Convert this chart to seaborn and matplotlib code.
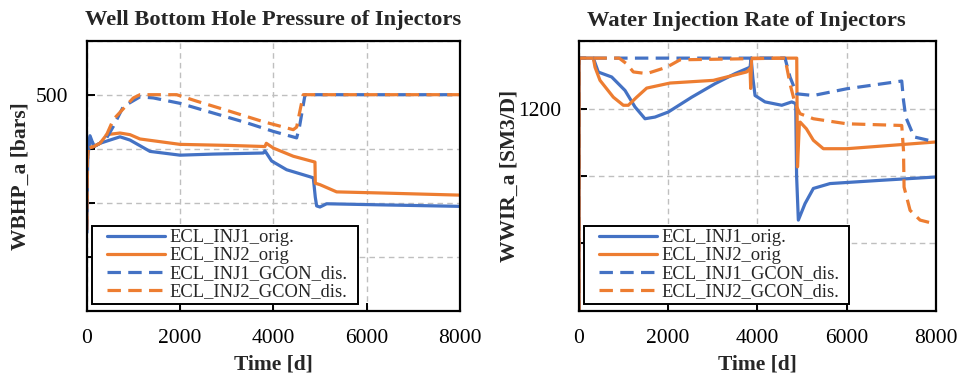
import numpy as np
import pandas as pd
import seaborn as sns
import matplotlib
matplotlib.use("Agg")
import matplotlib.pyplot as plt
from matplotlib.lines import Line2D
from matplotlib.legend_handler import HandlerLine2D

# ---- Well bottom hole pressure (bars) ----
bhp_inj1_orig_t = [0, 20, 71, 157, 285, 714, 928, 1357, 2000, 2713, 3785, 3821, 3964, 4286, 4786, 4857, 4900, 4929, 5000, 5143, 6285, 8000]
bhp_inj1_orig_v = [372, 440, 462, 452, 455, 461, 458, 447.5, 444, 445, 446, 448, 438.6, 430.5, 424, 423, 405, 397, 396, 399, 398, 396.6]

bhp_inj2_orig_t = [0, 15, 35, 150, 285, 428, 714, 928, 1142, 2000, 3071, 3821, 3850, 4000, 4428, 4893, 4900, 5000, 5357, 6285, 8000]
bhp_inj2_orig_v = [375, 440, 450.6, 452, 455, 463, 464.5, 463, 459, 454, 453, 452, 455, 450.6, 443, 437.6, 418, 416.7, 410, 409, 407]

bhp_inj1_gcon_t = [0, 20, 71, 157, 285, 428, 571, 785, 1142, 1428, 2000, 2713, 3428, 4000, 4500, 4560, 4680, 8000]
bhp_inj1_gcon_v = [372, 440, 462, 452, 455, 460, 470.6, 489, 498, 497, 492, 483, 474, 466, 460, 470, 500, 500]

bhp_inj2_gcon_t = [0, 15, 35, 150, 285, 428, 571, 1000, 1142, 1928, 2357, 3071, 3785, 4428, 4500, 4642, 8000]
bhp_inj2_gcon_v = [375, 440, 450.6, 452, 455, 463, 477, 497, 500, 500, 494, 484.6, 475, 467.6, 470, 500, 500]

# ---- Water injection rate (SM3/D) ----
wir_inj1_orig_t = [0, 1, 321, 433, 733, 1032, 1256, 1480, 1705, 2003, 2528, 3050, 3500, 3836, 3860, 3900, 3948, 4172, 4547, 4771, 4860, 4880, 4919, 5069, 5256, 5630, 6751, 8000]
wir_inj1_orig_v = [0, 1350, 1350, 1308.6, 1294, 1254, 1205, 1170, 1175, 1190, 1234, 1274, 1304, 1323, 1350, 1290, 1239, 1220, 1210, 1220, 1215, 1000, 869, 918, 963, 977.5, 987, 997]

wir_inj2_orig_t = [0, 1, 321, 359, 471, 770, 994, 1106, 1293, 1518, 2041, 3013, 3761, 3836, 3850, 3870, 3900, 4883, 4900, 4940, 4960, 5100, 5256, 5480, 6004, 8000]
wir_inj2_orig_v = [0, 1350, 1350, 1323, 1284, 1234, 1210, 1210, 1234, 1261, 1276, 1284, 1309, 1319, 1260, 1350, 1350, 1350, 1027, 1150, 1160, 1140, 1106, 1081, 1081, 1101]

wir_inj1_gcon_t = [0, 1, 4620, 4732, 4883, 5256, 6004, 7238, 7277, 7328, 7515, 8000]
wir_inj1_gcon_v = [0, 1350, 1350, 1294, 1244, 1239, 1259, 1282, 1225, 1175, 1116, 1101]

wir_inj2_gcon_t = [0, 1, 900, 1070, 1218, 1518, 1967, 2266, 4620, 4732, 4845, 4957, 5256, 6004, 7238, 7277, 7290, 7425, 7649, 7948, 8000]
wir_inj2_gcon_v = [0, 1350, 1350, 1333, 1309, 1304, 1323, 1345, 1350, 1274, 1215, 1185, 1170, 1155, 1150, 1076, 967, 898, 869, 859, 859]

series_names = ["ECL_INJ1_orig.", "ECL_INJ2_orig", "ECL_INJ1_GCON_dis.", "ECL_INJ2_GCON_dis."]
BLUE, ORANGE = "#4472C4", "#ED7D31"
palette = {series_names[0]: BLUE, series_names[1]: ORANGE,
           series_names[2]: BLUE, series_names[3]: ORANGE}
dash_styles = {series_names[0]: "", series_names[1]: "",
               series_names[2]: (4.2, 2.3), series_names[3]: (4.2, 2.3)}


def long_frame(pairs):
    frames = []
    for name, (t, v) in zip(series_names, pairs):
        frames.append(pd.DataFrame({"Time": t, "Value": v, "Series": name}))
    return pd.concat(frames, ignore_index=True)


bhp = long_frame([(bhp_inj1_orig_t, bhp_inj1_orig_v), (bhp_inj2_orig_t, bhp_inj2_orig_v),
                  (bhp_inj1_gcon_t, bhp_inj1_gcon_v), (bhp_inj2_gcon_t, bhp_inj2_gcon_v)])
wir = long_frame([(wir_inj1_orig_t, wir_inj1_orig_v), (wir_inj2_orig_t, wir_inj2_orig_v),
                  (wir_inj1_gcon_t, wir_inj1_gcon_v), (wir_inj2_gcon_t, wir_inj2_gcon_v)])

sns.set_theme(style="white")
plt.rcParams["font.family"] = ["Liberation Serif", "DejaVu Serif"]

fig = plt.figure(figsize=(9.61, 3.75), dpi=100)
ax1 = fig.add_axes([0.0902, 0.1715, 0.3884, 0.7200])
ax2 = fig.add_axes([0.6025, 0.1715, 0.3712, 0.7184])

panels = [
    (ax1, bhp, "Well Bottom Hole Pressure of Injectors", "WBHP_a [bars]",
     (300, 550), [300, 350, 400, 450, 500, 550], 500, 3.5, 0.5, 0.7117),
    (ax2, wir, "Water Injection Rate of Injectors", "WWIR_a [SM3/D]",
     (600, 1400), [600, 800, 1000, 1200, 1400], 1200, -1.5, 0.47, 0.7438),
]

for ax, df, title, ylabel, ylim, yticks, shown, ypad, tx, legw in panels:
    sns.lineplot(data=df, x="Time", y="Value", hue="Series", style="Series",
                 palette=palette, dashes=dash_styles, estimator=None, sort=False,
                 linewidth=2.3, ax=ax)
    ax.set_xlim(0, 8000)
    ax.set_ylim(*ylim)
    ax.set_xticks([0, 2000, 4000, 6000, 8000])
    ax.set_yticks(yticks)
    ax.set_yticklabels([str(v) if v == shown else "" for v in yticks])
    ax.grid(True, color="#BFBFBF", linestyle=(0, (4, 3)), linewidth=1.0)
    ax.set_axisbelow(True)
    for s in ax.spines.values():
        s.set_color("black")
        s.set_linewidth(1.6)
    ax.tick_params(direction="in", length=6, width=1.4, labelsize=15.5, pad=13,
                   colors="black", left=True, bottom=True)
    ax.set_title(title, fontsize=16.2, fontweight="bold", pad=11, x=tx)
    ax.set_xlabel("Time [d]", fontsize=15.5, fontweight="bold", labelpad=5)
    ax.set_ylabel(ylabel, fontsize=15.5, fontweight="bold", labelpad=ypad)
    leg = ax.legend(loc="lower left", bbox_to_anchor=(0.014, 0.025, legw, 0.3),
                    mode="expand", borderaxespad=0,
                    fontsize=13.3, handlelength=3.75, handletextpad=0.25,
                    labelspacing=0.05, borderpad=0.2, fancybox=False,
                    framealpha=1, edgecolor="black",
                    handler_map={Line2D: HandlerLine2D(xpad=0.6)})
    leg.get_frame().set_linewidth(1.4)

fig.savefig("out.png", dpi=100)
